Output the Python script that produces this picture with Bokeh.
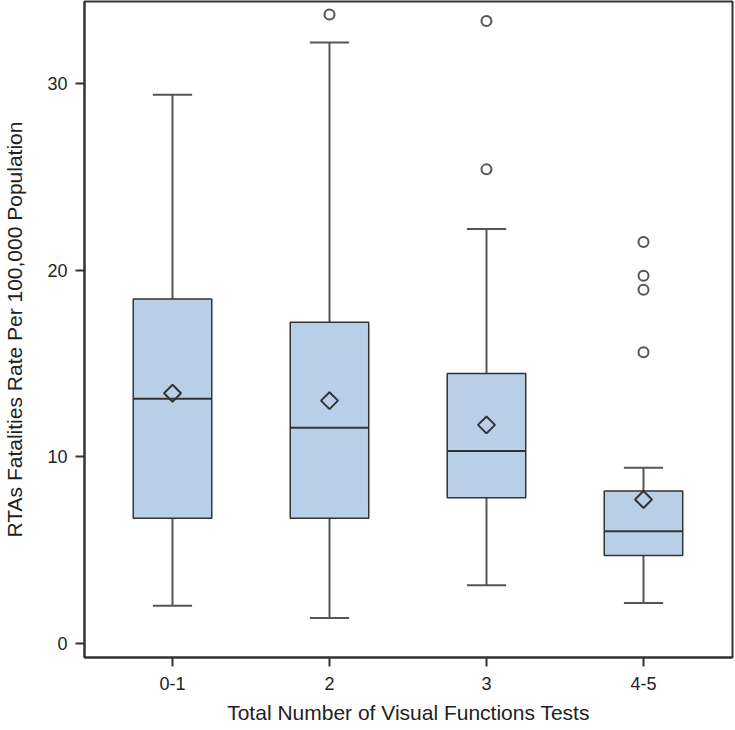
import numpy as np
from bokeh.plotting import figure
from bokeh.models import Range1d, FixedTicker, ColumnDataSource
from bokeh.embed import file_html
from bokeh.resources import INLINE

# ---- data ----
categories = ["0-1", "2", "3", "4-5"]
lower_whisker = [2.0, 1.35, 3.1, 2.15]
q1 = [6.7, 6.7, 7.8, 4.7]
median = [13.1, 11.55, 10.3, 6.0]
q3 = [18.45, 17.2, 14.45, 8.15]
upper_whisker = [29.4, 32.2, 22.2, 9.4]
mean = [13.4, 13.0, 11.7, 7.7]
outlier_group = ["2", "3", "3", "4-5", "4-5", "4-5", "4-5"]
outlier_value = [33.7, 33.35, 25.4, 21.5, 19.7, 18.95, 15.6]

y_ticks = [0, 10, 20, 30]
x_title = "Total Number of Visual Functions Tests"
y_title = "RTAs Fatalities Rate Per 100,000 Population"

# ---- styling ----
BOX_FILL = "#B9CFE8"
DARK = "#333333"
WHISK = "#555555"
TEXT = "#222222"
FONT = "Liberation Sans"

pos = {c: i + 1 for i, c in enumerate(categories)}
xs = [pos[c] for c in categories]
box_w = 0.5
cap_w = 0.25

p = figure(width=735, height=730, output_backend="svg", toolbar_location=None,
           x_range=Range1d(0.4395, 4.567), y_range=Range1d(-0.77, 34.4),
           min_border_left=84, min_border_right=3, min_border_top=1, min_border_bottom=73,
           margin=(0, 0, 0, 0))
p.background_fill_color = "white"
p.border_fill_color = "white"
p.xgrid.visible = False
p.ygrid.visible = False
p.outline_line_color = DARK
p.outline_line_width = 2

src = ColumnDataSource(dict(
    x=xs, lo=lower_whisker, q1=q1, med=median, q3=q3, hi=upper_whisker, mean=mean,
    cap_l=[x - cap_w / 2 for x in xs], cap_r=[x + cap_w / 2 for x in xs],
    box_l=[x - box_w / 2 for x in xs], box_r=[x + box_w / 2 for x in xs],
))

# whiskers
p.segment(x0="x", y0="q1", x1="x", y1="lo", source=src, line_color=WHISK, line_width=2)
p.segment(x0="x", y0="q3", x1="x", y1="hi", source=src, line_color=WHISK, line_width=2)
p.segment(x0="cap_l", y0="lo", x1="cap_r", y1="lo", source=src, line_color=WHISK, line_width=2)
p.segment(x0="cap_l", y0="hi", x1="cap_r", y1="hi", source=src, line_color=WHISK, line_width=2)

# boxes
p.vbar(x="x", width=box_w, bottom="q1", top="q3", source=src,
       fill_color=BOX_FILL, line_color=DARK, line_width=1.5)
p.segment(x0="box_l", y0="med", x1="box_r", y1="med", source=src, line_color=DARK, line_width=2)

# mean diamonds
p.scatter(x="x", y="mean", source=src, marker="square", size=12, angle=np.pi / 4,
          fill_alpha=0, line_color=DARK, line_width=2)

# outliers
p.scatter(x=[pos[g] for g in outlier_group], y=outlier_value, marker="circle", size=10,
          fill_alpha=0, line_color=WHISK, line_width=2)

# axes
for ax in (p.xaxis[0], p.yaxis[0]):
    ax.axis_line_color = DARK
    ax.axis_line_width = 2
    ax.major_tick_line_color = DARK
    ax.major_tick_line_width = 2
    ax.major_tick_out = 9
    ax.major_tick_in = 0
    ax.minor_tick_line_color = None
    ax.major_label_text_font = FONT
    ax.major_label_text_font_size = "18px"
    ax.major_label_text_color = TEXT
    ax.axis_label_text_font = FONT
    ax.axis_label_text_font_size = "21px"
    ax.axis_label_text_font_style = "normal"
    ax.axis_label_text_color = TEXT

p.xaxis.ticker = FixedTicker(ticks=xs)
p.xaxis.major_label_overrides = {x: c for x, c in zip(xs, categories)}
p.xaxis.major_label_standoff = 10
p.xaxis.axis_label = x_title
p.xaxis.axis_label_standoff = 8

p.yaxis.ticker = FixedTicker(ticks=y_ticks)
p.yaxis.major_label_standoff = 8
p.yaxis.axis_label = y_title
p.yaxis.axis_label_standoff = 18

open("out.html", "w").write(file_html(p, INLINE))
